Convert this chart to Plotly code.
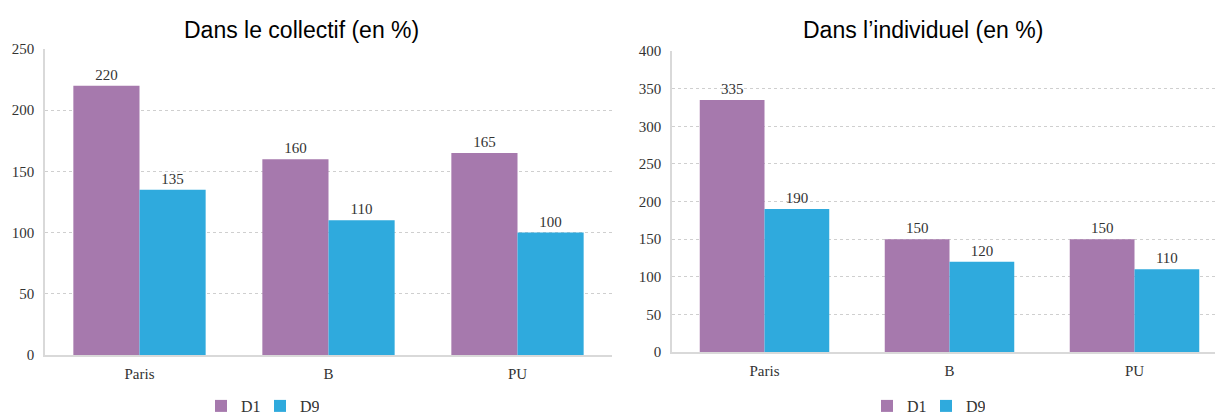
import plotly.graph_objects as go

categories = ["Paris", "B", "PU"]
collectif_d1 = [220, 160, 165]
collectif_d9 = [135, 110, 100]
individuel_d1 = [335, 150, 150]
individuel_d9 = [190, 120, 110]
series_names = ["D1", "D9"]
titles = ["Dans le collectif (en %)", "Dans l’individuel (en %)"]

PURPLE = "#A679AD"
BLUE = "#2FAADD"
SERIF = "Liberation Serif"
SANS = "Liberation Sans"
W, H = 1215, 414

fig = go.Figure()

def add_bars(d1, d9, xa, ya, leg):
    for name, vals, col in [(series_names[0], d1, PURPLE), (series_names[1], d9, BLUE)]:
        fig.add_trace(go.Bar(
            x=categories, y=vals, name=name, marker_color=col, marker_line_width=0,
            text=[str(v) for v in vals], textposition="outside",
            textfont=dict(family=SERIF, size=15, color="#333333"),
            cliponaxis=False, xaxis=xa, yaxis=ya, legend=leg,
        ))

add_bars(collectif_d1, collectif_d9, "x", "y", "legend")
add_bars(individuel_d1, individuel_d9, "x2", "y2", "legend2")

ax_common = dict(showline=True, linecolor="#d9d9d9", linewidth=1.5, ticks="", automargin=False,
                 tickfont=dict(family=SERIF, size=15, color="#333333"))
grid = dict(showgrid=True, gridcolor="#cfcfcf", griddash="dot", gridwidth=1, zeroline=False)

leg_common = dict(orientation="h", xanchor="center", y=1 - 406 / H, yanchor="middle",
                  font=dict(family=SERIF, size=16, color="#333333"), itemwidth=30,
                  entrywidth=14, bgcolor="rgba(0,0,0,0)")

fig.update_layout(
    width=W, height=H, margin=dict(l=0, r=0, t=0, b=0, autoexpand=False),
    plot_bgcolor="white", paper_bgcolor="white",
    barmode="group", bargap=0.3, bargroupgap=0,
    xaxis=dict(domain=[45 / W, 612 / W], range=[-0.5, 2.5], anchor="y", ticklabelstandoff=4, **ax_common),
    yaxis=dict(domain=[1 - 355 / H, 1 - 49 / H], range=[0, 250], dtick=50, anchor="x",
               ticklabelstandoff=6, **ax_common, **grid),
    xaxis2=dict(domain=[672 / W, 1.0], range=[-0.5, 2.5 - 12 / 185], anchor="y2", ticklabelstandoff=4, **ax_common),
    yaxis2=dict(domain=[1 - 352 / H, 1 - 51 / H], range=[0, 400], dtick=50, anchor="x2",
                ticklabelstandoff=6, **ax_common, **grid),
    legend=dict(x=260 / W, **leg_common),
    legend2=dict(x=926 / W, **leg_common),
    annotations=[
        dict(text=titles[0], x=301 / W, y=1 - 30 / H, xref="paper", yref="paper",
             showarrow=False, font=dict(family=SANS, size=23, color="#000000"),
             xanchor="center", yanchor="middle"),
        dict(text=titles[1], x=923 / W, y=1 - 30 / H, xref="paper", yref="paper",
             showarrow=False, font=dict(family=SANS, size=23, color="#000000"),
             xanchor="center", yanchor="middle"),
    ],
)

fig.write_html("out.html")
